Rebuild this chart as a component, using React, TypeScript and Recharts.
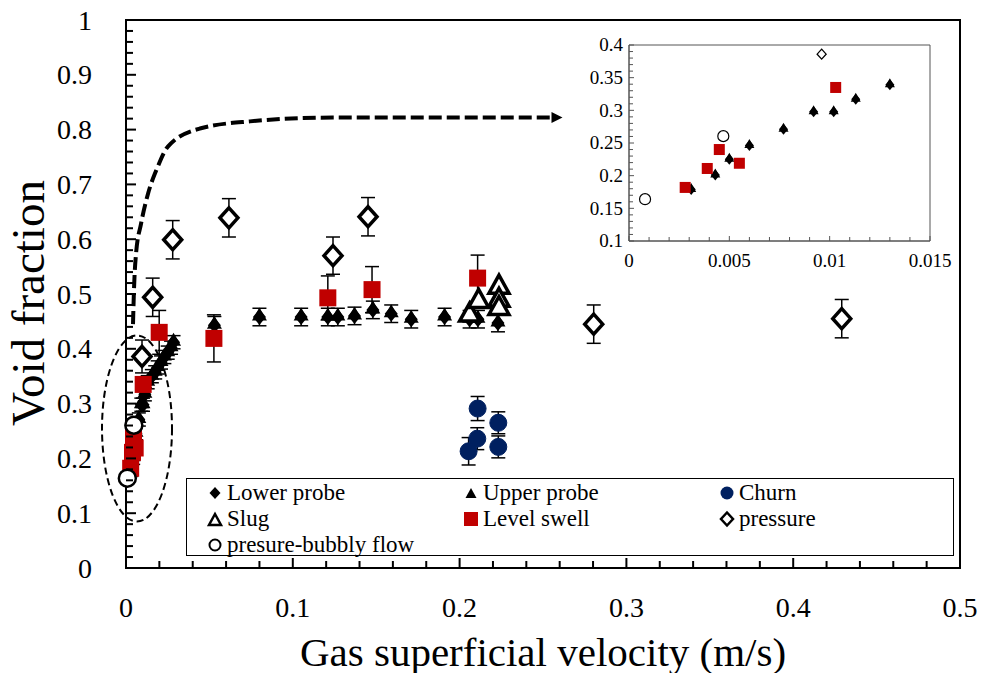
import React from 'react';
import {
  ComposedChart,
  ScatterChart,
  Scatter,
  Line,
  XAxis,
  YAxis,
  ErrorBar,
  ReferenceDot,
  ReferenceArea,
  Legend,
  Label,
} from 'recharts';

const FONT = '"Liberation Serif", "Times New Roman", serif';
const RED = '#C00000';
const NAVY = '#002060';

// ---- main axes ----
const xMajor = [0, 0.1, 0.2, 0.3, 0.4, 0.5];
const xLabels = ['0', '0.1', '0.2', '0.3', '0.4', '0.5'];
const xTicks = [
  0, 0.02, 0.04, 0.06, 0.08, 0.1, 0.12, 0.14, 0.16, 0.18, 0.2, 0.22, 0.24, 0.26, 0.28, 0.3,
  0.32, 0.34, 0.36, 0.38, 0.4, 0.42, 0.44, 0.46, 0.48, 0.5,
];
const yMajor = [0, 0.1, 0.2, 0.3, 0.4, 0.5, 0.6, 0.7, 0.8, 0.9, 1];
const yLabels = ['0', '0.1', '0.2', '0.3', '0.4', '0.5', '0.6', '0.7', '0.8', '0.9', '1'];
const yTicks = [
  0, 0.02, 0.04, 0.06, 0.08, 0.1, 0.12, 0.14, 0.16, 0.18, 0.2, 0.22, 0.24, 0.26, 0.28, 0.3,
  0.32, 0.34, 0.36, 0.38, 0.4, 0.42, 0.44, 0.46, 0.48, 0.5, 0.52, 0.54, 0.56, 0.58, 0.6,
  0.62, 0.64, 0.66, 0.68, 0.7, 0.72, 0.74, 0.76, 0.78, 0.8, 0.82, 0.84, 0.86, 0.88, 0.9,
  0.92, 0.94, 0.96, 0.98, 1,
];

// ---- inset axes ----
const insetXMajor = [0, 0.005, 0.01, 0.015];
const insetXLabels = ['0', '0.005', '0.01', '0.015'];
const insetXTicks = [
  0, 0.001, 0.002, 0.003, 0.004, 0.005, 0.006, 0.007, 0.008, 0.009, 0.01, 0.011, 0.012,
  0.013, 0.014, 0.015,
];
const insetYMajor = [0.1, 0.15, 0.2, 0.25, 0.3, 0.35, 0.4];
const insetYLabels = ['0.1', '0.15', '0.2', '0.25', '0.3', '0.35', '0.4'];
const insetYTicks = [
  0.1, 0.11, 0.12, 0.13, 0.14, 0.15, 0.16, 0.17, 0.18, 0.19, 0.2, 0.21, 0.22, 0.23, 0.24,
  0.25, 0.26, 0.27, 0.28, 0.29, 0.3, 0.31, 0.32, 0.33, 0.34, 0.35, 0.36, 0.37, 0.38, 0.39, 0.4,
];

// ---- series (lower and upper probe share the same readings) ----
const probeX = [
  0.0031, 0.0043, 0.005, 0.006, 0.0077, 0.0092, 0.0102, 0.0113, 0.013, 0.0155, 0.0175, 0.019,
  0.021, 0.023, 0.025, 0.027, 0.0285, 0.053, 0.08, 0.105, 0.121, 0.127, 0.137, 0.148, 0.159,
  0.171, 0.191, 0.206, 0.211, 0.223,
];
const probeY = [
  0.179, 0.201, 0.225, 0.246, 0.271, 0.298, 0.298, 0.317, 0.339, 0.35, 0.357, 0.366, 0.375,
  0.385, 0.393, 0.402, 0.412, 0.443, 0.458, 0.458, 0.458, 0.458, 0.46, 0.471, 0.464, 0.454,
  0.458, 0.454, 0.454, 0.447,
];
const probeErr = [
  0.012, 0.012, 0.012, 0.012, 0.012, 0.012, 0.012, 0.012, 0.012, 0.012, 0.012, 0.012, 0.012,
  0.012, 0.012, 0.012, 0.012, 0.016, 0.016, 0.016, 0.016, 0.016, 0.016, 0.016, 0.016, 0.016,
  0.016, 0.016, 0.016, 0.016,
];

const churnX = [0.2108, 0.2106, 0.2054, 0.2232, 0.2232];
const churnY = [0.291, 0.236, 0.213, 0.265, 0.221];
const churnErr = [0.022, 0.02, 0.025, 0.02, 0.02];

const slugX = [0.206, 0.2114, 0.2236, 0.2236, 0.2236];
const slugY = [0.467, 0.492, 0.518, 0.494, 0.479];

const swellX = [0.0028, 0.0039, 0.0045, 0.0055, 0.0103, 0.0199, 0.0527, 0.121, 0.1475, 0.2108];
const swellY = [0.182, 0.211, 0.24, 0.219, 0.335, 0.43, 0.419, 0.493, 0.508, 0.529];
const swellErr = [0.01, 0.01, 0.01, 0.01, 0.012, 0.04, 0.043, 0.04, 0.042, 0.042];

const pressureX = [0.0096, 0.016, 0.028, 0.0617, 0.1241, 0.1451, 0.2804, 0.4291];
const pressureY = [0.386, 0.494, 0.599, 0.639, 0.57, 0.641, 0.445, 0.455];
const pressureErr = [0.03, 0.035, 0.035, 0.035, 0.034, 0.035, 0.035, 0.035];

const bubblyX = [0.0008, 0.0047];
const bubblyY = [0.164, 0.2605];

// ---- annotations: dashed arrow to the inset, dashed ellipse ----
const curveX = [0.0042, 0.0048, 0.006, 0.009, 0.0132, 0.0186, 0.0251, 0.0443, 0.0743, 0.124, 0.224, 0.257];
const curveY = [0.445, 0.509, 0.573, 0.628, 0.683, 0.729, 0.769, 0.802, 0.815, 0.822, 0.822, 0.822];
const arrowTip = { x: 0.2617, y: 0.822 };
const ellipseCenter = { x: 0.0066, y: 0.2546 };

const legendNames = [
  'Lower probe',
  'Upper probe',
  'Churn',
  'Slug',
  'Level swell',
  'pressure',
  'presure-bubbly flow',
];

type Pt = { x: number; y: number; e: number };
const toPoints = (xs: number[], ys: number[], es?: number[]): Pt[] =>
  xs.map((x, i) => ({ x, y: ys[i], e: es ? es[i] : 0 }));

const probe = toPoints(probeX, probeY, probeErr);
const churn = toPoints(churnX, churnY, churnErr);
const slug = toPoints(slugX, slugY);
const swell = toPoints(swellX, swellY, swellErr);
const pressure = toPoints(pressureX, pressureY, pressureErr);
const bubbly = toPoints(bubblyX, bubblyY);
const curve = curveX.map((x, i) => ({ x, y: curveY[i] }));

const inInset = (p: Pt) => p.x >= 0 && p.x < 0.015 && p.y >= 0.1 && p.y <= 0.4;

// ---- marker shapes ----
const diamondPath = (cx: number, cy: number, w: number, h: number) =>
  `M${cx},${cy - h / 2}L${cx + w / 2},${cy}L${cx},${cy + h / 2}L${cx - w / 2},${cy}Z`;
const trianglePath = (cx: number, cy: number, w: number, h: number) =>
  `M${cx},${cy - h / 2}L${cx + w / 2},${cy + h / 2}L${cx - w / 2},${cy + h / 2}Z`;

const solidDiamond = (w: number, h: number) => (p: any) =>
  <path d={diamondPath(p.cx, p.cy, w, h)} fill="#000" />;
const solidTriangle = (w: number, h: number, lift: number) => (p: any) =>
  <path d={trianglePath(p.cx, p.cy - lift, w, h)} fill="#000" />;
const openDiamond = (w: number, h: number, sw: number) => (p: any) =>
  <path d={diamondPath(p.cx, p.cy, w, h)} fill="#fff" stroke="#000" strokeWidth={sw} strokeLinejoin="miter" />;
const openTriangle = (w: number, h: number, sw: number) => (p: any) =>
  <path d={trianglePath(p.cx, p.cy, w, h)} fill="#fff" stroke="#000" strokeWidth={sw} />;
const square = (s: number) => (p: any) =>
  <rect x={p.cx - s / 2} y={p.cy - s / 2} width={s} height={s} fill={RED} />;
const dot = (r: number, fill: string, stroke: string, sw: number) => (p: any) =>
  <circle cx={p.cx} cy={p.cy} r={r} fill={fill} stroke={stroke} strokeWidth={sw} />;

// ---- axis tick with inside tick marks and labels only on majors ----
function axisTick(
  kind: 'x' | 'y',
  majors: number[],
  labels: string[],
  o: { major: number; minor: number; gap: number; size: number; color: string; width: number }
) {
  return (props: any) => {
    const { x, y, payload } = props;
    const idx = majors.findIndex((m) => Math.abs(m - payload.value) < 1e-9);
    const len = idx >= 0 ? o.major : o.minor;
    if (kind === 'x') {
      return (
        <g>
          <line x1={x} y1={y} x2={x} y2={y - len} stroke={o.color} strokeWidth={o.width} />
          {idx >= 0 && (
            <text x={x} y={y + o.gap} textAnchor="middle" fontSize={o.size} fontFamily={FONT} fill="#000">
              {labels[idx]}
            </text>
          )}
        </g>
      );
    }
    return (
      <g>
        <line x1={x} y1={y} x2={x + len} y2={y} stroke={o.color} strokeWidth={o.width} />
        {idx >= 0 && (
          <text x={x - o.gap} y={y} dy="0.34em" textAnchor="end" fontSize={o.size} fontFamily={FONT} fill="#000">
            {labels[idx]}
          </text>
        )}
      </g>
    );
  };
}

const legendMarker = (i: number) => {
  const c = 9;
  switch (i) {
    case 0:
      return <path d={diamondPath(c, c, 11, 12)} fill="#000" />;
    case 1:
      return <path d={trianglePath(c, c, 11, 10)} fill="#000" />;
    case 2:
      return <circle cx={c} cy={c} r={6.5} fill={NAVY} />;
    case 3:
      return <path d={trianglePath(c, c + 0.5, 12, 11)} fill="#fff" stroke="#000" strokeWidth={2.5} />;
    case 4:
      return <rect x={c - 7} y={c - 7} width={14} height={14} fill={RED} />;
    case 5:
      return <path d={diamondPath(c, c, 12, 13)} fill="#fff" stroke="#000" strokeWidth={2.5} />;
    default:
      return <circle cx={c} cy={c} r={5.5} fill="#fff" stroke="#000" strokeWidth={2} />;
  }
};

const legendCols = [28, 284, 540];
const legendRows = [14, 40, 66];

const renderLegend = () => (
  <div
    style={{
      position: 'relative',
      width: 768,
      height: 78,
      boxSizing: 'border-box',
      border: '1.5px solid #000',
      background: '#fff',
      fontFamily: FONT,
      fontSize: 23,
      color: '#000',
    }}
  >
    {legendNames.map((name, i) => {
      const cx = legendCols[i % 3];
      const cy = legendRows[Math.floor(i / 3)];
      return (
        <div key={name}>
          <svg width={18} height={18} style={{ position: 'absolute', left: cx - 9, top: cy - 9 }}>
            {legendMarker(i)}
          </svg>
          <span style={{ position: 'absolute', left: cx + 12, top: cy - 14, lineHeight: '28px', whiteSpace: 'nowrap' }}>
            {name}
          </span>
        </div>
      );
    })}
  </div>
);

const errorProps = { dataKey: 'e', direction: 'y' as const, width: 7, stroke: '#000', strokeWidth: 1.5 };

export default function App() {
  return (
    <div style={{ position: 'relative', width: 978, height: 681, margin: '-8px 0 -8px -8px', fontFamily: FONT }}>
      <ComposedChart width={978} height={681} margin={{ top: 20, right: 18, bottom: 0, left: 0 }}>
        <XAxis
          dataKey="x"
          type="number"
          domain={[0, 0.5]}
          ticks={xTicks}
          interval={0}
          height={113}
          tickSize={0}
          tickMargin={0}
          axisLine={{ stroke: '#000', strokeWidth: 2 }}
          tickLine={false}
          tick={axisTick('x', xMajor, xLabels, { major: 10, minor: 7, gap: 49, size: 28, color: '#000', width: 2 })}
        >
          <Label
            content={(p: any) => {
              const vb = p.viewBox;
              return (
                <text x={vb.x + vb.width / 2} y={vb.y + 98} textAnchor="middle" fontSize={41} fontFamily={FONT} fill="#000">
                  Gas superficial velocity (m/s)
                </text>
              );
            }}
          />
        </XAxis>
        <YAxis
          dataKey="y"
          type="number"
          domain={[0, 1]}
          ticks={yTicks}
          interval={0}
          width={126}
          tickSize={0}
          tickMargin={0}
          axisLine={{ stroke: '#000', strokeWidth: 2 }}
          tickLine={false}
          tick={axisTick('y', yMajor, yLabels, { major: 10, minor: 7, gap: 34, size: 28, color: '#000', width: 2 })}
        >
          <Label
            content={(p: any) => {
              const vb = p.viewBox;
              const tx = vb.x + 28;
              const ty = vb.y + vb.height / 2 + 9;
              return (
                <text
                  x={tx}
                  y={ty}
                  transform={`rotate(-90 ${tx} ${ty})`}
                  textAnchor="middle"
                  dominantBaseline="central"
                  fontSize={47}
                  fontFamily={FONT}
                  fill="#000"
                >
                  Void fraction
                </text>
              );
            }}
          />
        </YAxis>
        <ReferenceArea x1={0} x2={0.5} y1={0} y2={1} fill="none" fillOpacity={0} stroke="#000" strokeWidth={2} />
        <Legend
          verticalAlign="middle"
          align="center"
          layout="horizontal"
          content={renderLegend}
          wrapperStyle={{ left: 186, top: 478, width: 768, height: 78 }}
        />
        <Line
          data={curve}
          dataKey="y"
          type="monotoneX"
          stroke="#000"
          strokeWidth={4}
          strokeDasharray="13 5"
          dot={false}
          activeDot={false}
          legendType="none"
          isAnimationActive={false}
        />
        <ReferenceDot
          x={arrowTip.x}
          y={arrowTip.y}
          shape={(p: any) => (
            <path d={`M${p.cx},${p.cy}L${p.cx - 11},${p.cy - 5.5}L${p.cx - 11},${p.cy + 5.5}Z`} fill="#000" />
          )}
        />
        <ReferenceDot
          x={ellipseCenter.x}
          y={ellipseCenter.y}
          shape={(p: any) => (
            <ellipse cx={p.cx} cy={p.cy} rx={35} ry={93} fill="none" stroke="#000" strokeWidth={2} strokeDasharray="7 4" />
          )}
        />
        <Scatter name="Lower probe" data={probe} shape={solidDiamond(13, 16)} isAnimationActive={false}>
          <ErrorBar {...errorProps} />
        </Scatter>
        <Scatter name="Upper probe" data={probe} shape={solidTriangle(15, 13, 3)} isAnimationActive={false} />
        <Scatter name="Churn" data={churn} shape={dot(8.5, NAVY, NAVY, 1)} isAnimationActive={false}>
          <ErrorBar {...errorProps} />
        </Scatter>
        <Scatter name="Slug" data={slug} shape={openTriangle(20, 18, 3.5)} isAnimationActive={false} />
        <Scatter name="Level swell" data={swell} shape={square(17)} isAnimationActive={false}>
          <ErrorBar {...errorProps} />
        </Scatter>
        <Scatter name="pressure" data={pressure} shape={openDiamond(18, 20, 3.5)} isAnimationActive={false}>
          <ErrorBar {...errorProps} />
        </Scatter>
        <Scatter name="presure-bubbly flow" data={bubbly} shape={dot(8.5, '#fff', '#000', 2.5)} isAnimationActive={false} />
      </ComposedChart>

      <div style={{ position: 'absolute', left: 580, top: 30 }}>
        <ScatterChart width={385} height={245} margin={{ top: 15, right: 35, bottom: 0, left: 0 }}>
          <XAxis
            dataKey="x"
            type="number"
            domain={[0, 0.015]}
            ticks={insetXTicks}
            interval={0}
            height={34}
            tickSize={0}
            tickMargin={0}
            axisLine={{ stroke: '#555', strokeWidth: 1 }}
            tickLine={false}
            tick={axisTick('x', insetXMajor, insetXLabels, { major: 5, minor: 4, gap: 26, size: 19, color: '#555', width: 1 })}
          />
          <YAxis
            dataKey="y"
            type="number"
            domain={[0.1, 0.4]}
            ticks={insetYTicks}
            interval={0}
            width={49}
            tickSize={0}
            tickMargin={0}
            axisLine={{ stroke: '#555', strokeWidth: 1 }}
            tickLine={false}
            tick={axisTick('y', insetYMajor, insetYLabels, { major: 5, minor: 4, gap: 6, size: 19, color: '#555', width: 1 })}
          />
          <ReferenceArea x1={0} x2={0.015} y1={0.1} y2={0.4} fill="none" fillOpacity={0} stroke="#555" strokeWidth={1} />
          <Scatter data={probe.filter(inInset)} shape={solidDiamond(9, 11)} isAnimationActive={false} />
          <Scatter data={probe.filter(inInset)} shape={solidTriangle(10, 9, 2)} isAnimationActive={false} />
          <Scatter data={swell.filter(inInset)} shape={square(11)} isAnimationActive={false} />
          <Scatter data={pressure.filter(inInset)} shape={openDiamond(9, 10, 1.3)} isAnimationActive={false} />
          <Scatter data={bubbly.filter(inInset)} shape={dot(5.5, '#fff', '#000', 1.2)} isAnimationActive={false} />
        </ScatterChart>
      </div>
    </div>
  );
}
